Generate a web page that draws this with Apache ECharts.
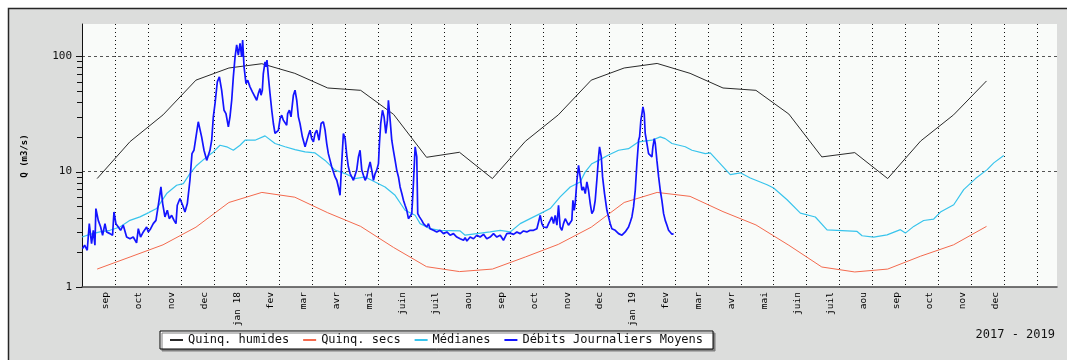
<!DOCTYPE html>
<html>
<head>
<meta charset="utf-8">
<title>Débits journaliers 2017 - 2019</title>
<script src="https://cdn.jsdelivr.net/npm/echarts@6/dist/echarts.min.js"></script>
<style>
  html, body { margin: 0; padding: 0; background: #ffffff; }
  #chart { width: 1067px; height: 360px; }
</style>
</head>
<body>
<div id="chart"></div>
<script>
// Month labels under each monthly grid line (Sept 2017 .. Dec 2019)
const moisEtiquettes = ['sep', 'oct', 'nov', 'dec', 'jan 18', 'fev', 'mar', 'avr', 'mai', 'juin', 'juil', 'aou',
  'sep', 'oct', 'nov', 'dec', 'jan 19', 'fev', 'mar', 'avr', 'mai', 'juin', 'juil', 'aou',
  'sep', 'oct', 'nov', 'dec'];

// Monthly reference values (mid-month), Aug 2017 .. Nov 2019
const moisReference = ['2017-08', '2017-09', '2017-10', '2017-11', '2017-12', '2018-01', '2018-02', '2018-03',
  '2018-04', '2018-05', '2018-06', '2018-07', '2018-08', '2018-09', '2018-10', '2018-11', '2018-12', '2019-01',
  '2019-02', '2019-03', '2019-04', '2019-05', '2019-06', '2019-07', '2019-08', '2019-09', '2019-10', '2019-11'];
const quinqHumides = [8.7, 18.2, 31, 62, 79, 86, 71, 53, 50.6, 31.3, 13.3, 14.7, 8.7, 18.3, 31, 62, 79, 86.5,
  71, 53, 50.6, 31.5, 13.4, 14.6, 8.7, 18.4, 31, 61];
const quinqSecs = [1.43, 1.82, 2.32, 3.3, 5.4, 6.6, 6.0, 4.4, 3.35, 2.2, 1.5, 1.36, 1.43, 1.82, 2.34, 3.3, 5.4, 6.6,
  6.1, 4.5, 3.45, 2.3, 1.49, 1.35, 1.43, 1.85, 2.32, 3.35];

// Daily medians: days counted from 1 Sept 2017, flow in m3/s
const medianesJours = [-30.4, -23.1, -13.9, -4.6, 4.6, 13.9, 23.1, 29.3, 38.5, 47.8, 57.0, 63.2, 69.3, 75.5, 84.8,
  90.9, 97.1, 103.3, 109.4, 115.6, 120.2, 129.4, 138.7, 147.9, 157.2, 166.4, 175.7, 184.9, 194.2, 203.4, 212.7,
  221.9, 231.2, 240.4, 249.6, 258.9, 268.1, 277.4, 282.0, 291.2, 300.5, 319.0, 323.6, 334.4, 346.7, 356.0, 365.2,
  374.5, 383.7, 393.0, 402.2, 411.4, 420.7, 429.9, 434.6, 440.7, 446.9, 456.1, 465.4, 474.6, 483.9, 496.2, 503.9,
  508.5, 514.7, 527.0, 533.2, 545.5, 550.1, 568.6, 577.9, 587.1, 602.6, 608.7, 621.1, 633.4, 647.2, 658.0, 685.8,
  690.4, 701.1, 713.5, 725.8, 730.4, 738.1, 747.3, 756.6, 762.8, 775.1, 784.3, 795.2, 806.0, 812.1, 821.3];
const medianesQ = [2.71, 2.86, 3.00, 3.10, 3.31, 3.78, 4.05, 4.32, 4.78, 6.45, 7.61, 7.87, 9.61, 11.3, 13.4,
  14.8, 16.9, 16.4, 15.3, 16.9, 18.7, 18.7, 20.4, 17.5, 16.4, 15.5, 14.8, 14.5, 12.5, 10.3, 9.61,
  8.7, 8.99, 8.13, 7.36, 6.23, 4.62, 4.18, 3.54, 3.20, 3.10, 3.06, 2.81, 2.90, 3.00, 3.10, 3.00,
  3.54, 3.91, 4.32, 4.78, 6.03, 7.36, 8.13, 9.94, 11.7, 12.5, 13.9, 15.3, 15.8, 18.1, 18.7, 20.0,
  19.3, 17.5, 16.4, 15.3, 14.3, 14.5, 9.4, 9.76, 8.8, 7.7, 7.2, 5.7, 4.37, 4.04, 3.13, 3.03,
  2.78, 2.7, 2.83, 3.14, 2.93, 3.35, 3.77, 3.88, 4.46, 5.16, 6.97, 8.7, 10.4, 11.9, 13.8];

// Mean daily flows: days counted from 1 Sept 2017, flow in m3/s
const debitsJours = [-30, -28, -25.6, -23.7, -21.6, -20, -18.5, -17.6, -15.4, -13.2, -11.4, -9.2, -7.7, -4.6, -2.2,
  -0.9, 0.9, 3.1, 5.2, 7.7, 10.8, 13.9, 16.9, 20.0, 21.6, 23.7, 26.2, 29.3, 30.8, 33, 35.4, 37.9, 40.1, 42.5, 44.1,
  46.2, 48.4, 50.2, 52.4, 54.6, 56.4, 57.6, 60.1, 62.6, 64.7, 66.9, 69.3, 71.2, 73, 74.9, 77, 78.6, 80.1, 82.3,
  84.8, 87.8, 89.4, 90.9, 92.5, 94.6, 96.5, 98.6, 100.8, 102.6, 104.8, 106.3, 107.9, 109.4, 111, 112.5, 114,
  115.6, 117.1, 118, 119.3, 121.1, 122.7, 124.8, 127.0, 128.8, 131.0, 132.5, 134.1, 135.0, 136.2, 137.1, 138.7,
  139.6, 140.5, 141.8, 143.3, 144.9, 146.4, 147.9, 149.5, 151.0, 152.6, 154.1, 155.6, 157.2, 158.7, 159.6, 161.2,
  162.7, 164.9, 166.4, 168.0, 169.5, 171.0, 173.2, 175.7, 177.2, 178.8, 180.3, 181.8, 183.4, 184.9, 186.5, 188.6,
  190.5, 192.6, 194.2, 195.7, 197.2, 198.8, 200.3, 201.9, 203.4, 205.0, 206.5, 208.0, 209.6, 211.1, 212.7, 214.2,
  215.7, 217.3, 218.8, 220.4, 221.9, 223.4, 225.0, 226.5, 228.1, 229.6, 231.2, 232.7, 234.2, 235.8, 237.3, 238.9,
  240.4, 241.9, 243.5, 244.4, 245.6, 247.2, 248.7, 250.3, 251.8, 252.7, 254.3, 255.8, 257.3, 258.9, 260.4, 262.0,
  263.5, 265.1, 266.6, 268.1, 269.7, 271.2, 272.8, 274.3, 275.8, 277.4, 278.9, 279.8, 281.4, 283.5, 285.1, 286.6,
  288.2, 289.7, 291.2, 292.8, 294.3, 297.4, 300.5, 303.6, 306.7, 309.7, 312.8, 315.9, 319.0, 322.1, 323.6, 325.2,
  328.2, 331.3, 334.4, 337.5, 340.6, 343.6, 346.7, 349.8, 352.9, 356.0, 359.0, 362.1, 365.2, 368.3, 371.4, 374.5,
  377.5, 380.6, 383.7, 386.8, 389.9, 391.4, 393.0, 394.5, 396.0, 397.6, 399.1, 400.7, 402.2, 403.7, 405.3, 406.8,
  408.4, 409.9, 411.4, 413.0, 414.5, 416.1, 417.6, 419.1, 420.7, 422.2, 423.2, 424.4, 425.3, 426.9, 428.4, 429.9,
  431.5, 433.0, 434.6, 436.1, 437.6, 439.2, 440.7, 442.3, 443.8, 445.3, 446.9, 447.8, 449.4, 450.6, 452.4, 454.6,
  456.1, 457.7, 459.2, 462.3, 465.4, 468.5, 470.0, 471.5, 474.6, 476.2, 477.7, 479.2, 480.8, 482.3, 483.9, 484.8,
  486.0, 487.0, 487.9, 489.1, 490.0, 491.6, 493.1, 494.7, 496.2, 497.1, 498.4, 499.3, 500.8, 502.4, 503.9, 505.4,
  507.0, 508.5, 510.1, 511.6, 513.2, 514.7, 516.2];
const debitsQ = [2.15, 2.30, 2.08, 3.54, 2.37, 3.10, 2.30, 4.78, 3.78, 3.31, 2.81, 3.54, 3.00, 2.90, 2.81,
  4.47, 3.54, 3.31, 3.10, 3.43, 2.71, 2.62, 2.71, 2.41, 3.20, 2.71, 3.00, 3.31, 3.00, 3.20, 3.54, 3.78, 5.11, 7.36, 5.28,
  4.05, 4.62, 3.91, 4.18, 3.78, 3.54, 5.11, 5.84, 5.11, 4.47, 5.28, 8.41, 14.3, 15.3, 20.0, 27.0, 27.9, 20.0, 15.3,
  12.5, 15.3, 18.7, 29.8, 38.9, 59.9, 66.2, 50.7, 34.0, 31.8, 24.4, 29.8, 41.5, 66.2, 98.7, 125, 102,
  129, 98.7, 138, 80.8, 57.9, 61.9, 54.2, 49.1, 50.7, 41.5, 47.4, 52.4, 45.9, 50.7, 70.7, 89.3,
  80.8, 92.3, 66.2, 47.4, 34.0, 26.1, 21.4, 20.7, 22.8, 28.8, 30.8, 27.9, 27.0, 25.2, 31.8, 34.0,
  29.8, 45.9, 50.7, 41.5, 29.8, 26.1, 20.0, 16.4, 16.9, 20.7, 22.8, 19.3, 18.1, 21.4, 22.8, 18.7,
  26.1, 27.0, 22.8, 17.5, 14.3, 12.5, 11.0, 9.94, 8.99, 8.41, 7.36, 6.23, 12.1, 21.4, 19.3, 13.9,
  11.0, 9.61, 8.99, 8.41, 8.7, 10.3, 13.4, 15.3, 10.3, 9.3, 8.41, 8.99, 10.6, 12.1, 10.3, 8.41,
  9.61, 10.3, 11.7, 17.5, 26.1, 34.0, 29.8, 21.4, 27.9, 41.5, 27.9, 18.7, 15.3, 12.5, 10.3, 8.99,
  7.36, 6.45, 5.64, 5.11, 4.62, 3.91, 3.84, 4.32, 7.87, 16.4, 13.4, 4.32, 4.05, 3.78, 3.54, 3.66,
  3.31, 3.54, 3.20, 3.31, 3.10, 3.00, 3.10, 2.90, 3.00, 2.81, 2.90, 2.71, 2.62, 2.54, 2.68, 2.50,
  2.71, 2.62, 2.81, 2.71, 2.86, 2.62, 2.71, 2.90, 2.71, 2.81, 2.54, 2.90, 2.93, 2.86, 3.00, 2.90,
  3.06, 3.00, 3.10, 3.10, 3.20, 3.10, 4.18, 3.54, 3.31, 3.43, 3.27, 3.54, 3.78, 4.05, 3.54, 4.18,
  3.43, 5.11, 3.31, 3.10, 3.54, 3.91, 3.66, 3.43, 3.54, 3.78, 5.64, 4.62, 5.28, 8.41, 11.3, 9.0,
  6.89, 7.36, 6.45, 8.13, 6.89, 5.28, 4.32, 4.62, 5.64, 8.41, 13.4, 16.4, 13.4, 8.99, 6.45, 4.62,
  4.05, 3.54, 3.20, 3.10, 2.90, 2.81, 2.90, 3.00, 3.31, 3.66, 4.05, 4.94, 6.89, 11.7, 18.7, 20.0,
  27.9, 31.8, 36.4, 31.8, 21.4, 17.5, 14.3, 13.9, 13.4, 16.4, 19.3, 17.5, 12.5, 8.99, 6.89, 5.64,
  4.32, 3.78, 3.43, 3.10, 3.00, 2.86, 2.90];

// Graduations on the log flow axis
const graduationsQ = [1, 2, 3, 4, 5, 6, 7, 8, 9, 10, 20, 30, 40, 50, 60, 70, 80, 90, 100];
const graduationsMajeures = [1, 10, 100];

// x axis is in months since 1 Sept 2017, each month drawn with the same width
const JOURS_PAR_MOIS = 365.25 / 12;
const X_MIN = -1;
const X_MAX = 28.6;
const moisVersX = ym => {
  const [a, m] = ym.split('-').map(Number);
  return (a - 2017) * 12 + (m - 9) + 14 / JOURS_PAR_MOIS;
};
const joursVersX = j => j / JOURS_PAR_MOIS;

const police = 'DejaVu Sans Mono, Liberation Mono, monospace';

const chart = echarts.init(document.getElementById('chart'), null, { renderer: 'canvas' });

chart.setOption({
  animation: false,
  backgroundColor: '#ffffff',
  graphic: [
    {
      type: 'rect', z: -100, silent: true,
      shape: { x: 8.5, y: 8.5, width: 1070, height: 360 },
      style: { fill: '#dcdddc', stroke: '#262626', lineWidth: 1.5 }
    },
    {
      type: 'text', z: 10, silent: true,
      x: 25, y: 156, rotation: Math.PI / 2,
      style: {
        text: 'Q (m3/s)', fill: '#000', font: 'bold 9px ' + police,
        textAlign: 'center', textVerticalAlign: 'middle'
      }
    },
    {
      type: 'text', z: 10, silent: true,
      x: 1055, y: 335,
      style: {
        text: '2017 - 2019', fill: '#111', font: '12px ' + police,
        textAlign: 'right', textVerticalAlign: 'middle'
      }
    }
  ],
  grid: {
    left: 82, right: 10, top: 24, bottom: 73,
    show: true, backgroundColor: '#f9fbf9', borderWidth: 0
  },
  legend: {
    left: 160, top: 331,
    orient: 'horizontal',
    itemWidth: 13, itemHeight: 2, itemGap: 14,
    padding: [3, 10, 3, 10],
    backgroundColor: '#ffffff',
    borderColor: '#000000', borderWidth: 1, borderRadius: 0,
    shadowColor: '#808080', shadowBlur: 0, shadowOffsetX: 2, shadowOffsetY: 2,
    textStyle: { fontFamily: police, fontSize: 12, color: '#111' },
    data: [
      { name: 'Quinq. humides', icon: 'rect' },
      { name: 'Quinq. secs', icon: 'rect' },
      { name: 'Médianes', icon: 'rect' },
      { name: 'Débits Journaliers Moyens', icon: 'rect' }
    ]
  },
  xAxis: {
    type: 'value',
    min: X_MIN, max: X_MAX, interval: 1,
    axisLine: { show: true, onZero: false, lineStyle: { color: '#4a4a4a', width: 1.5 } },
    axisTick: { show: false },
    splitLine: {
      show: true, showMinLine: false, showMaxLine: false,
      lineStyle: { color: '#111', width: 1, type: [1, 3] }
    },
    axisLabel: {
      rotate: 90, margin: 5,
      verticalAlign: 'bottom', lineHeight: 18,
      fontFamily: police, fontSize: 9.5, color: '#000',
      showMinLabel: false, showMaxLabel: false,
      formatter: v => {
        const i = Math.round(v);
        if (Math.abs(v - i) > 1e-6) return '';
        return moisEtiquettes[i] || '';
      }
    }
  },
  yAxis: {
    type: 'log', logBase: 10,
    min: 1, max: 190,
    axisLine: { show: true, onZero: false, lineStyle: { color: '#111', width: 1 } },
    axisTick: { show: false },
    splitLine: {
      show: true, showMinLine: false, showMaxLine: false,
      lineStyle: { color: '#555', width: 1, type: [3, 3] }
    },
    axisLabel: {
      margin: 10, fontFamily: police, fontSize: 11, color: '#111',
      showMaxLabel: false,
      formatter: v => (graduationsMajeures.includes(Math.round(v)) ? String(Math.round(v)) : '')
    }
  },
  series: [
    {
      name: 'graduations', type: 'custom', silent: true, clip: false, z: 6,
      data: graduationsQ.map(q => [X_MIN, q]),
      renderItem: (params, api) => {
        const q = api.value(1);
        const p = api.coord([api.value(0), q]);
        const y = Math.round(p[1]) + 0.5;
        const len = graduationsMajeures.includes(q) ? 6 : 5;
        return {
          type: 'line',
          shape: { x1: p[0] - len, y1: y, x2: p[0], y2: y },
          style: { stroke: '#111', lineWidth: 1 }
        };
      }
    },
    {
      name: 'Quinq. humides', type: 'line', symbol: 'none', showSymbol: false, z: 3,
      color: '#2a2a2a', lineStyle: { color: '#2a2a2a', width: 1 },
      data: moisReference.map((m, i) => [moisVersX(m), quinqHumides[i]])
    },
    {
      name: 'Quinq. secs', type: 'line', symbol: 'none', showSymbol: false, z: 3,
      color: '#f46a4e', lineStyle: { color: '#f46a4e', width: 1 },
      data: moisReference.map((m, i) => [moisVersX(m), quinqSecs[i]])
    },
    {
      name: 'Médianes', type: 'line', symbol: 'none', showSymbol: false, z: 3,
      color: '#38c4ec', lineStyle: { color: '#38c4ec', width: 1.2 },
      data: medianesJours.map((j, i) => [joursVersX(j), medianesQ[i]])
    },
    {
      name: 'Débits Journaliers Moyens', type: 'line', symbol: 'none', showSymbol: false, z: 4,
      color: '#1414ff', lineStyle: { color: '#1414ff', width: 1.7 },
      data: debitsJours.map((j, i) => [joursVersX(j), debitsQ[i]])
    }
  ]
});
</script>
</body>
</html>
